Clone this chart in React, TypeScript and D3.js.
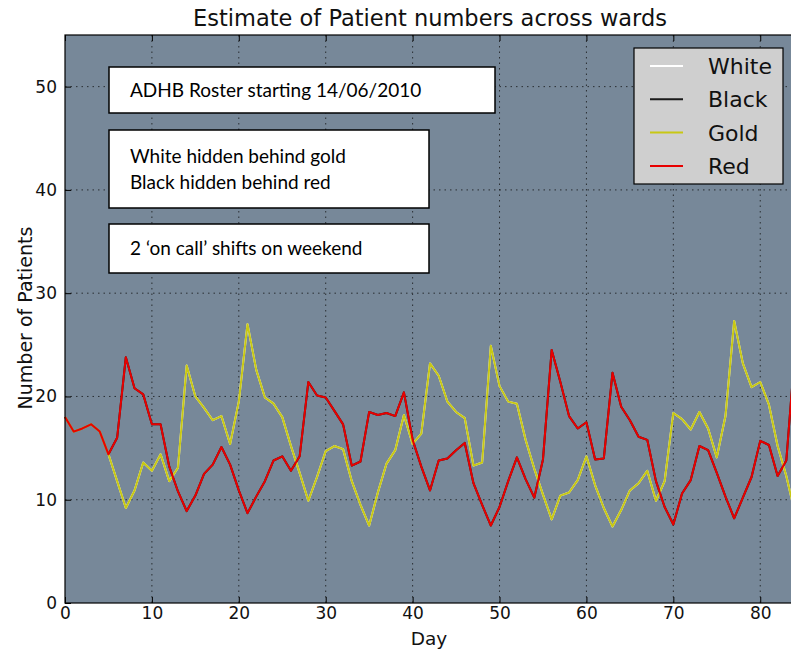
import * as d3 from 'd3';
import React, { useEffect, useRef } from 'react';

// patient counts per day (white sits under gold, black under red)
const redSeries = [
  18.0, 16.6, 16.9, 17.3, 16.6, 14.4, 16.0, 23.8, 20.8, 20.2,
  17.3, 17.3, 13.2, 10.8, 8.9, 10.4, 12.5, 13.4, 15.1, 13.4,
  10.9, 8.7, 10.3, 11.8, 13.8, 14.2, 12.8, 14.2, 21.4, 20.1,
  19.9, 18.6, 17.3, 13.3, 13.7, 18.5, 18.2, 18.4, 18.1, 20.4,
  15.8, 13.2, 10.9, 13.8, 14.0, 14.8, 15.5, 11.6, 9.5, 7.5,
  9.3, 11.8, 14.1, 12.0, 10.2, 13.9, 24.5, 21.4, 18.1, 16.9,
  17.5, 13.9, 14.0, 22.3, 19.0, 17.7, 16.1, 15.8, 11.8, 9.3,
  7.6, 10.6, 11.9, 15.2, 14.8, 12.6, 10.3, 8.2, 10.2, 12.2,
  15.7, 15.3, 12.3, 13.8, 24.5,
];
const goldSeries = [
  18.0, 16.6, 16.9, 17.3, 16.6, 14.4, 11.8, 9.2, 10.9, 13.6,
  12.8, 14.4, 11.8, 13.1, 23.0, 20.0, 18.9, 17.7, 18.1, 15.4,
  19.5, 27.0, 22.6, 19.9, 19.3, 18.0, 15.2, 12.6, 9.9, 12.2,
  14.7, 15.2, 14.9, 11.8, 9.5, 7.5, 10.7, 13.5, 14.8, 18.2,
  15.4, 16.4, 23.2, 22.0, 19.5, 18.5, 17.9, 13.3, 13.6, 24.9,
  21.0, 19.5, 19.3, 15.8, 13.0, 10.5, 8.1, 10.4, 10.7, 11.9,
  14.2, 11.4, 9.2, 7.4, 9.0, 10.9, 11.6, 12.8, 9.9, 11.8,
  18.4, 17.8, 16.8, 18.5, 16.9, 14.1, 18.1, 27.3, 23.2, 20.9,
  21.4, 19.2, 15.2, 12.3, 8.7,
];
const whiteSeries = goldSeries; // hidden behind gold
const blackSeries = redSeries; // hidden behind red

const seriesNames = ['White', 'Black', 'Gold', 'Red'];
const seriesColors = ['#ffffff', '#1a1a1a', '#c8c814', '#e80000'];

const xTicks = [0, 10, 20, 30, 40, 50, 60, 70, 80];
const yTicks = [0, 10, 20, 30, 40, 50];

const noteLines = [
  ['ADHB Roster starting 14/06/2010'],
  ['White hidden behind gold', 'Black hidden behind red'],
  ['2 \u2018on call\u2019 shifts on weekend'],
];

const App = () => {
  const ref = useRef<SVGSVGElement>(null);

  useEffect(() => {
    const svg = d3.select(ref.current);
    svg.selectAll('*').remove();

    const left = 65, right = 795, top = 35, bottom = 603;
    const x = d3.scaleLinear().domain([0, 84]).range([left, right]);
    const y = d3.scaleLinear().domain([0, 55]).range([bottom, top]);
    const font = 'DejaVu Sans, sans-serif';

    svg.append('rect').attr('width', 791).attr('height', 652).attr('fill', '#ffffff');

    svg.append('rect')
      .attr('x', left).attr('y', top)
      .attr('width', right - left).attr('height', bottom - top)
      .attr('fill', '#778899');

    // dotted grid
    const grid = svg.append('g').attr('stroke', '#111').attr('stroke-width', 1)
      .attr('stroke-dasharray', '1.5,4').attr('opacity', 0.75);
    grid.selectAll('.gx').data(xTicks.slice(1)).enter().append('line')
      .attr('x1', d => x(d)).attr('x2', d => x(d))
      .attr('y1', top).attr('y2', bottom);
    grid.selectAll('.gy').data(yTicks.slice(1)).enter().append('line')
      .attr('x1', left).attr('x2', right)
      .attr('y1', d => y(d)).attr('y2', d => y(d));

    // lines, drawn in legend order so gold covers white and red covers black
    const allSeries = [whiteSeries, blackSeries, goldSeries, redSeries];
    const line = d3.line<number>().x((d, i) => x(i)).y(d => y(d));
    allSeries.forEach((s, k) => {
      svg.append('path')
        .datum(s)
        .attr('d', line)
        .attr('fill', 'none')
        .attr('stroke', seriesColors[k])
        .attr('stroke-width', 2)
        .attr('stroke-linejoin', 'round');
    });

    // axes with inward ticks
    const yAxis = svg.append('g').attr('transform', `translate(${left},0)`)
      .call(d3.axisLeft(y).tickValues(yTicks).tickSize(-6).tickPadding(8));
    const xAxis = svg.append('g').attr('transform', `translate(0,${bottom})`)
      .call(d3.axisBottom(x).tickValues(xTicks).tickSize(-6).tickPadding(4));
    const topAxis = svg.append('g').attr('transform', `translate(0,${top})`)
      .call(d3.axisTop(x).tickValues(xTicks).tickSize(-6).tickFormat(() => ''));
    [yAxis, xAxis, topAxis].forEach(a => {
      a.select('.domain').remove();
      a.selectAll('line').attr('stroke', '#000');
      a.selectAll('text').attr('font-family', font).attr('font-size', 17).attr('fill', '#111');
    });

    svg.append('rect')
      .attr('x', left).attr('y', top)
      .attr('width', right - left).attr('height', bottom - top)
      .attr('fill', 'none').attr('stroke', '#000').attr('stroke-width', 1.2);

    // titles
    svg.append('text').attr('x', (left + right) / 2).attr('y', 26)
      .attr('text-anchor', 'middle').attr('font-family', font).attr('font-size', 22.5)
      .attr('fill', '#111').text('Estimate of Patient numbers across wards');
    svg.append('text').attr('x', 429).attr('y', 645)
      .attr('text-anchor', 'middle').attr('font-family', font).attr('font-size', 18.5)
      .attr('fill', '#111').text('Day');
    svg.append('text').attr('transform', 'translate(32,318) rotate(-90)')
      .attr('text-anchor', 'middle').attr('font-family', font).attr('font-size', 19)
      .attr('fill', '#111').text('Number of Patients');

    // note boxes
    const boxes = [
      { x: 109, y: 67, w: 386, h: 46 },
      { x: 109, y: 130, w: 320, h: 78 },
      { x: 109, y: 224, w: 320, h: 49 },
    ];
    boxes.forEach((b, k) => {
      svg.append('rect').attr('x', b.x).attr('y', b.y).attr('width', b.w).attr('height', b.h)
        .attr('fill', '#fff').attr('stroke', '#000').attr('stroke-width', 1.5);
      const n = noteLines[k].length;
      noteLines[k].forEach((t, j) => {
        svg.append('text')
          .attr('x', b.x + 21)
          .attr('y', b.y + b.h / 2 + 6.5 + (j - (n - 1) / 2) * 26)
          .attr('font-family', 'Lato, sans-serif').attr('font-size', 19)
          .attr('fill', '#000').text(t);
      });
    });

    // legend
    const lg = svg.append('g').attr('transform', 'translate(634,48)');
    lg.append('rect').attr('width', 149).attr('height', 136)
      .attr('fill', '#cfcfcf').attr('stroke', '#000').attr('stroke-width', 1.2);
    seriesNames.forEach((name, k) => {
      const ly = 18 + k * 33.3;
      lg.append('line').attr('x1', 16).attr('x2', 49).attr('y1', ly).attr('y2', ly)
        .attr('stroke', seriesColors[k]).attr('stroke-width', 2);
      lg.append('text').attr('x', 74).attr('y', ly + 8)
        .attr('font-family', font).attr('font-size', 22).attr('fill', '#111').text(name);
    });
  }, []);

  return (
    <svg ref={ref} width={791} height={652}
      style={{ position: 'absolute', left: 0, top: 0, display: 'block' }} />
  );
};

export default App;
